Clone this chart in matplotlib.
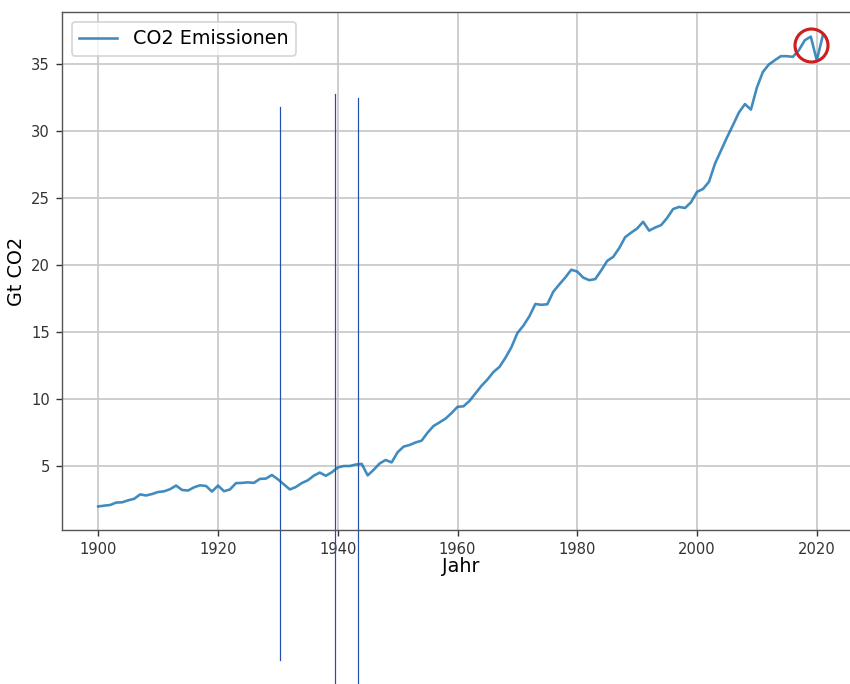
import numpy as np
import matplotlib.pyplot as plt

# Globale CO2-Emissionen in Gt
jahre = np.arange(1900, 2022)
emissionen = [
    1.95, 2.01, 2.06, 2.24, 2.26, 2.41, 2.52, 2.85, 2.77, 2.88,
    3.03, 3.08, 3.24, 3.51, 3.18, 3.14, 3.38, 3.53, 3.48, 3.06,
    3.51, 3.09, 3.22, 3.69, 3.71, 3.75, 3.71, 4.01, 4.03, 4.30,
    3.98, 3.60, 3.22, 3.40, 3.70, 3.90, 4.25, 4.48, 4.24, 4.50,
    4.86, 4.97, 4.97, 5.08, 5.13, 4.27, 4.69, 5.16, 5.42, 5.24,
    6.00, 6.42, 6.54, 6.73, 6.86, 7.46, 7.96, 8.23, 8.51, 8.92,
    9.39, 9.43, 9.83, 10.39, 10.96, 11.43, 11.99, 12.37, 13.05, 13.84,
    14.90, 15.45, 16.15, 17.07, 17.01, 17.05, 17.99, 18.53, 19.05, 19.63,
    19.49, 19.04, 18.85, 18.93, 19.58, 20.29, 20.59, 21.24, 22.06, 22.40,
    22.71, 23.21, 22.55, 22.78, 22.96, 23.49, 24.16, 24.32, 24.24, 24.67,
    25.45, 25.66, 26.20, 27.55, 28.53, 29.51, 30.43, 31.38, 32.00, 31.59,
    33.24, 34.40, 34.96, 35.28, 35.58, 35.58, 35.53, 36.02, 36.77, 37.04,
    35.26, 37.12,
]

# Markierungen (nachtraeglich eingezeichnet)
markierung_jahre = [1930.4, 1939.6, 1943.4]
markierung_oben = [0.817, 0.842, 0.834]
markierung_unten = [-0.251, -0.297, -0.297]
kreis_jahr = 2019
kreis_wert = 36.4

fig = plt.figure(figsize=(6.8, 5.472), dpi=125)
# Achse ragt rechts ueber das Bild hinaus (Screenshot ist abgeschnitten)
ax = fig.add_axes([62 / 850, (684 - 530) / 684, 797 / 850, 518 / 684])

ax.plot(jahre, emissionen, color='tab:blue', alpha=0.85, label='CO2 Emissionen')
ax.grid(True, color='#c8c8c8', linewidth=1.0)
ax.set_xlabel('Jahr', fontsize=11, labelpad=0)
ax.set_ylabel('Gt CO2', fontsize=11, labelpad=3)
ax.tick_params(labelsize=8.5, colors='#333333')
for s in ax.spines.values():
    s.set_color('#555555')
ax.legend(loc='upper left', fontsize=11)

trans = ax.get_xaxis_transform()
for j, o, u in zip(markierung_jahre, markierung_oben, markierung_unten):
    ax.plot([j, j], [u, o], transform=trans, color='#2050b0',
            linewidth=0.7, clip_on=False)

ax.plot(kreis_jahr, kreis_wert, 'o', markersize=19, markerfacecolor='none',
        markeredgecolor='#cc2020', markeredgewidth=1.8)

plt.savefig('out.png')
